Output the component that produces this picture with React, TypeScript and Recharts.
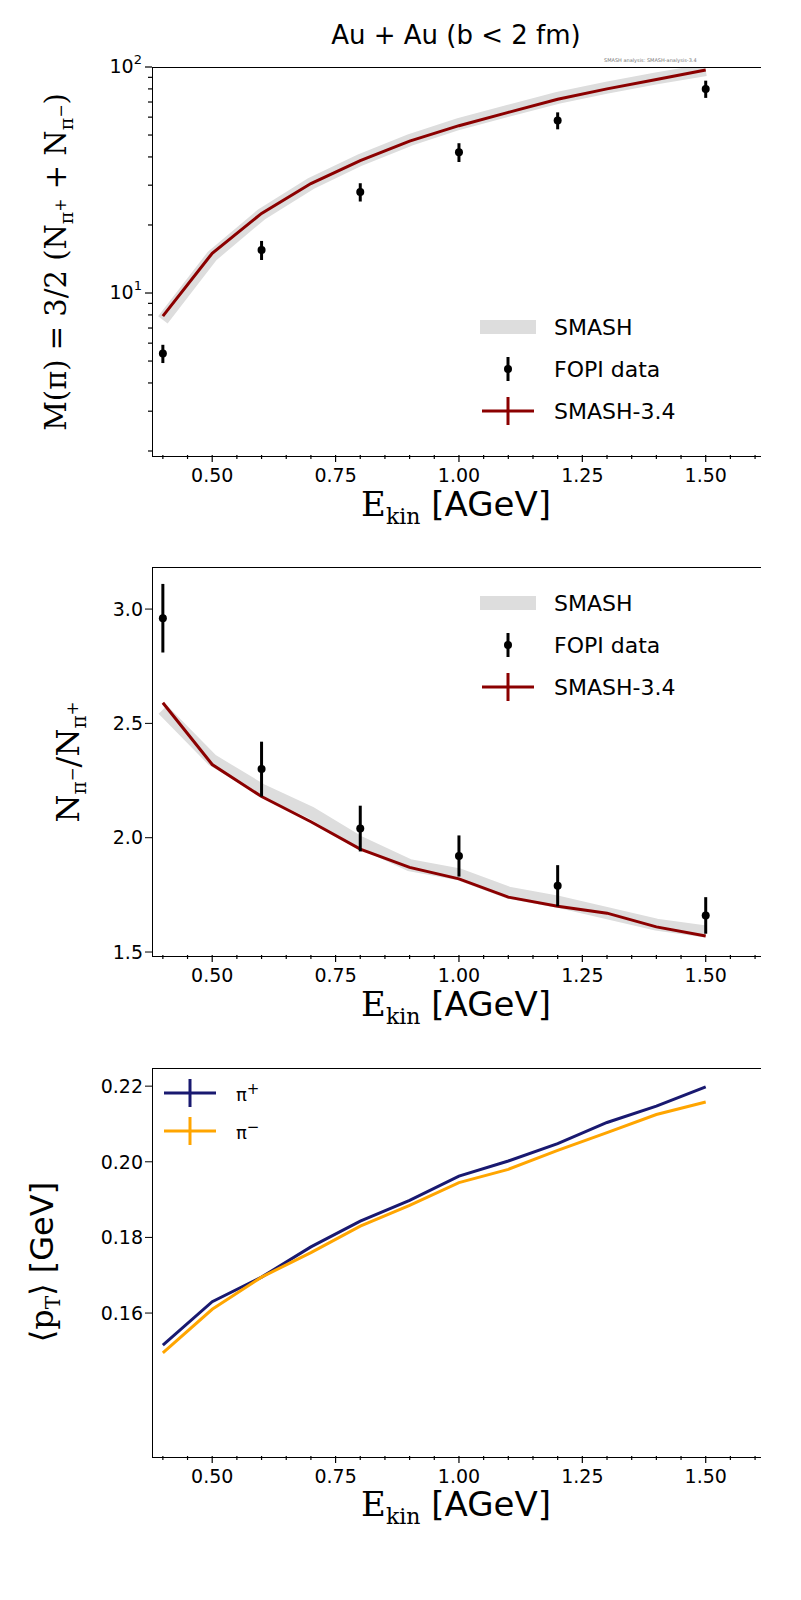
import { ComposedChart, Line, Scatter, ErrorBar, XAxis, YAxis } from 'recharts'

const energies = [0.4, 0.5, 0.6, 0.7, 0.8, 0.9, 1.0, 1.1, 1.2, 1.3, 1.4, 1.5]
const multSmash34 = [7.9, 15, 22.5, 30.5, 38.5, 47, 55, 63, 72, 80, 88, 97]
const multBand = [7.6, 14.6, 22.3, 30.5, 38.8, 47.5, 56, 64, 73, 81, 89, 97]
const fopiEnergies = [0.4, 0.6, 0.8, 1.0, 1.2, 1.5]
const multFopi = [5.4, 15.5, 28, 42, 58, 80]
const multFopiErr = [0.5, 1.5, 2.6, 4, 5, 7]
const ratioSmash34 = [2.59, 2.32, 2.18, 2.07, 1.95, 1.87, 1.82, 1.74, 1.7, 1.67, 1.61, 1.57]
const ratioBand = [2.56, 2.34, 2.21, 2.11, 1.98, 1.88, 1.84, 1.76, 1.72, 1.67, 1.62, 1.59]
const ratioFopi = [2.96, 2.3, 2.04, 1.92, 1.79, 1.66]
const ratioFopiErr = [0.15, 0.12, 0.1, 0.09, 0.09, 0.08]
const ptPlus = [0.1515, 0.163, 0.1695, 0.1775, 0.1843, 0.1898, 0.1962, 0.2002, 0.2048, 0.2104, 0.2147, 0.2198]
const ptMinus = [0.1495, 0.161, 0.1695, 0.176, 0.183, 0.1885, 0.1945, 0.198, 0.203, 0.2077, 0.2125, 0.2158]
const xTicks = [0.4, 0.45, 0.5, 0.55, 0.6, 0.65, 0.7, 0.75, 0.8, 0.85, 0.9, 0.95, 1.0, 1.05, 1.1, 1.15, 1.2, 1.25, 1.3, 1.35, 1.4, 1.45, 1.5, 1.55, 1.6]
const logTicks = [2, 3, 4, 5, 6, 7, 8, 9, 10, 20, 30, 40, 50, 60, 70, 80, 90, 100]

const smashData = energies.map((e, i) => ({
  e, mult: multSmash34[i], multBand: multBand[i], ratio: ratioSmash34[i], ratioBand: ratioBand[i],
  pip: ptPlus[i], pim: ptMinus[i],
}))
const fopiData = fopiEnergies.map((e, i) => ({
  e, mult: multFopi[i], multErr: multFopiErr[i], ratio: ratioFopi[i], ratioErr: ratioFopiErr[i],
}))

const font = 'DejaVu Sans, sans-serif'
const tickStyle = { fill: '#000', fontSize: 19, fontFamily: font }
const W = 801
const LEFT = 152
const RIGHT = 760

const LogTick = (props: any) => {
  const { x, y, payload } = props
  const exp = Math.log10(payload.value)
  const major = Math.abs(exp - Math.round(exp)) < 1e-9
  return (
    <g>
      <line x1={x} x2={x - (major ? 7 : 4)} y1={y} y2={y} stroke="#000" strokeWidth={1.2} />
      {major && (
        <text x={x - 10} y={y + 6} textAnchor="end" fontFamily={font} fontSize={19} fill="#000">
          10<tspan dy={-9} fontSize={13}>{Math.round(exp)}</tspan>
        </text>
      )}
    </g>
  )
}

const XTick = (props: any) => {
  const { x, y, payload } = props
  const v = payload.value
  const major = Math.abs(v * 4 - Math.round(v * 4)) < 1e-6 && v >= 0.5 && v <= 1.5
  return (
    <g>
      <line x1={x} x2={x} y1={y} y2={y + (major ? 7 : 4)} stroke="#000" strokeWidth={1.2} />
      {major && (
        <text x={x} y={y + 27} textAnchor="middle" fontFamily={font} fontSize={19} fill="#000">{v.toFixed(2)}</text>
      )}
    </g>
  )
}

const Dot = (props: any) => <circle cx={props.cx} cy={props.cy} r={4} fill="#000" />

function Panel({ top, plotTop, plotBottom, children }: any) {
  return (
    <div style={{ position: 'absolute', left: 0, top, width: W }}>
      {children}
      <div style={{ position: 'absolute', left: LEFT, top: plotTop, width: RIGHT - LEFT, height: plotBottom - plotTop, borderTop: '1px solid #000', borderLeft: '1px solid #000', borderBottom: '1px solid #000', pointerEvents: 'none' }} />
    </div>
  )
}

const xAxis = (
  <XAxis dataKey="e" type="number" domain={[0.378, 1.61]} ticks={xTicks} allowDataOverflow interval={0}
    tick={<XTick />} tickSize={0} tickMargin={0} height={30}
    axisLine={false} tickLine={false} />
)

function XLabel({ top }: { top: number }) {
  return (
    <div style={{ position: 'absolute', left: LEFT, width: RIGHT - LEFT, top, textAlign: 'center', fontSize: 34, fontFamily: font }}>
      <span style={{ fontFamily: 'DejaVu Serif, serif' }}>E<sub style={{ fontSize: 22 }}>kin</sub></span> [AGeV]
    </div>
  )
}

function LegendItem({ top, left, kind, color, label }: any) {
  return (
    <div style={{ position: 'absolute', top, left, display: 'flex', alignItems: 'center', fontFamily: font, fontSize: 22 }}>
      <svg width={60} height={30}>
        {kind === 'band' && <rect x={2} y={8} width={56} height={14} fill="#dddddd" />}
        {kind === 'dot' && <><line x1={30} x2={30} y1={3} y2={27} stroke="#000" strokeWidth={3} /><circle cx={30} cy={15} r={4} /></>}
        {kind === 'line' && <><line x1={4} x2={56} y1={15} y2={15} stroke={color} strokeWidth={3} /><line x1={30} x2={30} y1={1} y2={29} stroke={color} strokeWidth={3} /></>}
      </svg>
      <span style={{ marginLeft: 16, color: '#000' }}>{label}</span>
    </div>
  )
}

export default function App() {
  return (
    <div style={{ position: 'absolute', left: 0, top: 0, width: W, height: 1600, background: '#fff' }}>
      <div style={{ position: 'absolute', top: 20, left: LEFT, width: RIGHT - LEFT, textAlign: 'center', fontFamily: font, fontSize: 26 }}>
        Au + Au (b &lt; 2 fm)
      </div>
      <div style={{ position: 'absolute', top: 57, left: 604, fontFamily: font, fontSize: 5, color: '#777' }}>SMASH analysis: SMASH-analysis-3.4</div>

      <Panel top={0} plotTop={67} plotBottom={455}>
        <ComposedChart width={W} height={520} data={smashData} margin={{ top: 67, right: W - RIGHT, left: 0, bottom: 35 }}>
          {xAxis}
          <YAxis type="number" scale="log" domain={[1.92, 100]} ticks={logTicks} interval={0} allowDataOverflow width={LEFT}
            tick={<LogTick />} tickSize={0} tickMargin={0} axisLine={false} tickLine={false} />
          <Line dataKey="multBand" stroke="#dddddd" strokeWidth={12} dot={false} isAnimationActive={false} />
          <Line dataKey="mult" stroke="#8b0000" strokeWidth={3} dot={false} isAnimationActive={false} />
          <Scatter data={fopiData} dataKey="mult" shape={<Dot />} isAnimationActive={false}>
            <ErrorBar dataKey="multErr" direction="y" stroke="#000" strokeWidth={3} width={0} />
          </Scatter>
        </ComposedChart>
        <div style={{ position: 'absolute', left: 58, top: 262, transform: 'translate(-50%,-50%) rotate(-90deg)', whiteSpace: 'nowrap', fontSize: 29, fontFamily: 'DejaVu Serif, serif' }}>
          M(π) = 3/2 (N<sub style={{ fontSize: 19 }}>π<sup>+</sup></sub> + N<sub style={{ fontSize: 19 }}>π<sup>−</sup></sub>)
        </div>
        <LegendItem top={312} left={478} kind="band" label="SMASH" />
        <LegendItem top={354} left={478} kind="dot" label="FOPI data" />
        <LegendItem top={396} left={478} kind="line" color="#8b0000" label="SMASH-3.4" />
        <XLabel top={484} />
      </Panel>

      <Panel top={500} plotTop={67} plotBottom={455}>
        <ComposedChart width={W} height={520} data={smashData} margin={{ top: 67, right: W - RIGHT, left: 0, bottom: 35 }}>
          {xAxis}
          <YAxis type="number" domain={[1.487, 3.184]} ticks={[1.5, 2.0, 2.5, 3.0]} allowDataOverflow width={LEFT}
            tickFormatter={(v: number) => v.toFixed(1)} tick={tickStyle} tickSize={7} axisLine={false} tickLine={{ stroke: '#000' }} />
          <Line dataKey="ratioBand" stroke="#dddddd" strokeWidth={12} dot={false} isAnimationActive={false} />
          <Line dataKey="ratio" stroke="#8b0000" strokeWidth={3} dot={false} isAnimationActive={false} />
          <Scatter data={fopiData} dataKey="ratio" shape={<Dot />} isAnimationActive={false}>
            <ErrorBar dataKey="ratioErr" direction="y" stroke="#000" strokeWidth={3} width={0} />
          </Scatter>
        </ComposedChart>
        <div style={{ position: 'absolute', left: 70, top: 262, transform: 'translate(-50%,-50%) rotate(-90deg)', whiteSpace: 'nowrap', fontSize: 32, fontFamily: 'DejaVu Serif, serif' }}>
          N<sub style={{ fontSize: 20 }}>π<sup>−</sup></sub>/N<sub style={{ fontSize: 20 }}>π<sup>+</sup></sub>
        </div>
        <LegendItem top={88} left={478} kind="band" label="SMASH" />
        <LegendItem top={130} left={478} kind="dot" label="FOPI data" />
        <LegendItem top={172} left={478} kind="line" color="#8b0000" label="SMASH-3.4" />
        <XLabel top={484} />
      </Panel>

      <Panel top={1000} plotTop={68} plotBottom={456}>
        <ComposedChart width={W} height={520} data={smashData} margin={{ top: 68, right: W - RIGHT, left: 0, bottom: 34 }}>
          {xAxis}
          <YAxis type="number" domain={[0.1222, 0.2248]} ticks={[0.16, 0.18, 0.2, 0.22]} allowDataOverflow width={LEFT}
            tickFormatter={(v: number) => v.toFixed(2)} tick={tickStyle} tickSize={7} axisLine={false} tickLine={{ stroke: '#000' }} />
          <Line dataKey="pip" stroke="#191970" strokeWidth={3} dot={false} isAnimationActive={false} />
          <Line dataKey="pim" stroke="#ffa500" strokeWidth={3} dot={false} isAnimationActive={false} />
        </ComposedChart>
        <div style={{ position: 'absolute', left: 44, top: 262, transform: 'translate(-50%,-50%) rotate(-90deg)', whiteSpace: 'nowrap', fontSize: 32, fontFamily: font }}>
          <span style={{ fontFamily: 'DejaVu Serif, serif' }}>⟨p<sub style={{ fontSize: 20 }}>T</sub>⟩</span> [GeV]
        </div>
        <LegendItem top={78} left={160} kind="line" color="#191970" label={<span style={{ fontSize: 18 }}>π<sup>+</sup></span>} />
        <LegendItem top={116} left={160} kind="line" color="#ffa500" label={<span style={{ fontSize: 18 }}>π<sup>−</sup></span>} />
        <XLabel top={484} />
      </Panel>
    </div>
  )
}
